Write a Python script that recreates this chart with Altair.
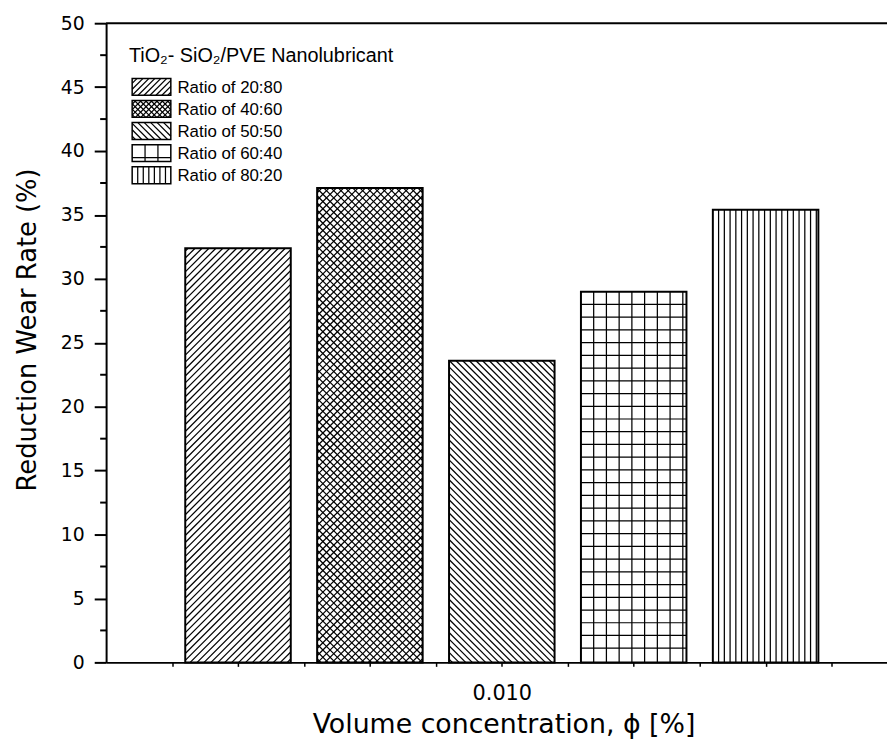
import altair as alt
import pandas as pd

# ---------------- data ----------------
ratios = ["Ratio of 20:80", "Ratio of 40:60", "Ratio of 50:50", "Ratio of 60:40", "Ratio of 80:20"]
wear_reduction = [32.4, 37.1, 23.6, 29.0, 35.4]
concentration = 0.010
hatch_kinds = ["diag_up", "cross", "diag_down", "grid", "vertical"]
legend_title = "TiO\u2082- SiO\u2082/PVE Nanolubricant"
x_ticks = [0.0075, 0.008, 0.0085, 0.009, 0.0095, 0.010, 0.0105, 0.011, 0.0115, 0.012, 0.0125]
y_major = [0, 5, 10, 15, 20, 25, 30, 35, 40, 45, 50]
y_minor = [2.5, 7.5, 12.5, 17.5, 22.5, 27.5, 32.5, 37.5, 42.5, 47.5]
x_title = "Volume concentration, \u03d5 [%]"
y_title = "Reduction Wear Rate (%)"

# ---------------- layout ----------------
W, H = 788, 645
X_MIN = 0.007
PX_PER_X = 66.55 / 0.0005
X_MAX = X_MIN + W / PX_PER_X
Y_MIN, Y_MAX = 0.0, 50.0
PX_PER_Y = H / (Y_MAX - Y_MIN)
GROUP_STEP = 0.001
BAR_FRAC = 0.8
BAR_SPACING = [7.0, 7.3, 6.7, 12.85, 5.8]
LEG_SPACING = [6.0, 5.5, 6.5, 13.0, 5.6]
LEG_LEFT, LEG_TOP, LEG_W, LEG_H, LEG_PITCH = 26.3, 55.7, 39.0, 17.0, 22.3
LEG_TEXT_X = 72.0
LEG_TITLE_X, LEG_TITLE_Y = 23.0, 39.3
AXIS_FONT = "DejaVu Sans"
LEG_FONT = "Liberation Sans"


def hatch(kind, w, h, s):
    """segments in local pixel coords (origin bottom-left, y up)"""
    segs = []
    if kind in ("diag_up", "cross"):
        c = -w + s / 2
        while c < h:
            a = max(0.0, -c)
            b = min(w, h - c)
            if b > a:
                segs.append((a, a + c, b, b + c))
            c += s
    if kind in ("diag_down", "cross"):
        c = s / 2
        while c < w + h:
            a = max(0.0, c - h)
            b = min(w, c)
            if b > a:
                segs.append((a, c - a, b, c - b))
            c += s
    if kind in ("grid", "vertical"):
        X = s
        while X < w - 0.5:
            segs.append((X, 0.0, X, h))
            X += s
    if kind == "grid":
        Y = h - s
        while Y > 2.0:
            segs.append((0.0, Y, w, Y))
            Y -= s
    return segs


def px_x(px):
    return X_MIN + px / PX_PER_X


def px_y(py):
    return Y_MAX - py / PX_PER_Y


bar_rows, hatch_rows = [], []
for i, (r, v, k) in enumerate(zip(ratios, wear_reduction, hatch_kinds)):
    xc = concentration + (i - 2) * GROUP_STEP
    x0 = xc - BAR_FRAC * GROUP_STEP / 2
    x1 = xc + BAR_FRAC * GROUP_STEP / 2
    bar_rows.append(dict(ratio=r, x=x0, x2=x1, y=0.0, y2=v))
    w_px = (x1 - x0) * PX_PER_X
    h_px = v * PX_PER_Y
    for (a, b, c, d) in hatch(k, w_px, h_px, BAR_SPACING[i]):
        hatch_rows.append(dict(x=x0 + a / PX_PER_X, y=b / PX_PER_Y,
                               x2=x0 + c / PX_PER_X, y2=d / PX_PER_Y))

leg_rows, leg_text_rows = [], []
for i, (r, k) in enumerate(zip(ratios, hatch_kinds)):
    top = LEG_TOP + i * LEG_PITCH
    bot = top + LEG_H
    leg_rows.append(dict(x=px_x(LEG_LEFT), x2=px_x(LEG_LEFT + LEG_W), y=px_y(bot), y2=px_y(top)))
    for (a, b, c, d) in hatch(k, LEG_W, LEG_H, LEG_SPACING[i]):
        hatch_rows.append(dict(x=px_x(LEG_LEFT + a), y=px_y(bot - b),
                               x2=px_x(LEG_LEFT + c), y2=px_y(bot - d)))
    leg_text_rows.append(dict(x=px_x(LEG_TEXT_X), y=px_y(top + LEG_H / 2 + 6.2), label=r))

bars_df = pd.DataFrame(bar_rows)
hatch_df = pd.DataFrame(hatch_rows)
leg_df = pd.DataFrame(leg_rows)
leg_text_df = pd.DataFrame(leg_text_rows)
leg_title_df = pd.DataFrame([dict(x=px_x(LEG_TITLE_X), y=px_y(LEG_TITLE_Y), label=legend_title)])
minor_df = pd.DataFrame({"y": y_minor})
frame_df = pd.DataFrame({"a": [0]})

XS = alt.Scale(domain=[X_MIN, X_MAX], nice=False, zero=False)
YS = alt.Scale(domain=[Y_MIN, Y_MAX], nice=False, zero=False)

XAX = alt.Axis(values=x_ticks, labelExpr="abs(datum.value - 0.01) < 1e-9 ? '0.010' : ''",
               tickSize=4, tickWidth=1.5, tickColor="black", domainWidth=2, domainColor="black",
               labelFont=AXIS_FONT, labelFontSize=21, labelColor="black", labelPadding=16,
               labelOverlap=False, labelFlush=False, grid=False,
               title=x_title, titleFont=AXIS_FONT, titleFontSize=27, titleFontWeight="normal",
               titleColor="black", titleX=401, titleY=71, titleBaseline="alphabetic",
               titleAlign="center")
YAX = alt.Axis(values=y_major, tickSize=12, tickWidth=2, tickColor="black", domainWidth=2,
               domainColor="black", labelFont=AXIS_FONT, labelFontSize=19, labelColor="black",
               labelPadding=10, labelFlush=False, labelOverlap=False, grid=False,
               title=y_title, titleFont=AXIS_FONT, titleFontSize=26, titleFontWeight="normal",
               titleColor="black", titleX=-71, titleY=309, titleAngle=270,
               titleBaseline="alphabetic", titleAlign="center")


def enc(ch, rect=True):
    e = dict(x=alt.X("x:Q", scale=XS, axis=XAX), y=alt.Y("y:Q", scale=YS, axis=YAX))
    if rect:
        e["x2"] = "x2:Q"
        e["y2"] = "y2:Q"
    return ch.encode(**e)


bar_fill = enc(alt.Chart(bars_df).mark_rect(fill="white", stroke=None))
hatch_layer = enc(alt.Chart(hatch_df).mark_rule(color="black", strokeWidth=1.25))
bar_outline = enc(alt.Chart(bars_df).mark_rect(fill="white", fillOpacity=0, stroke="black", strokeWidth=2))
leg_outline = enc(alt.Chart(leg_df).mark_rect(fill="white", fillOpacity=0, stroke="black", strokeWidth=1.5))
leg_text = enc(alt.Chart(leg_text_df).mark_text(align="left", baseline="alphabetic", font=LEG_FONT,
                                                fontSize=17, color="black"), rect=False).encode(text="label:N")
leg_title = enc(alt.Chart(leg_title_df).mark_text(align="left", baseline="alphabetic", font=LEG_FONT,
                                                  fontSize=20, color="black"), rect=False).encode(text="label:N")
minor_ticks = alt.Chart(minor_df).mark_rule(color="black", strokeWidth=2).encode(
    y=alt.Y("y:Q", scale=YS, axis=YAX), x=alt.value(-6), x2=alt.value(0))
top_frame = alt.Chart(frame_df).mark_rule(color="black", strokeWidth=2).encode(
    x=alt.value(0), x2=alt.value(W), y=alt.value(0))

chart = alt.layer(bar_fill, hatch_layer, bar_outline, leg_outline, leg_text, leg_title,
                  minor_ticks, top_frame).properties(
    width=W, height=H,
    padding={"left": 99, "top": 12, "right": 0, "bottom": 77},
    autosize=alt.AutoSizeParams(type="none"),
    background="white",
).configure_view(stroke=None)

chart.save("out.html", embed_options={"renderer": "svg", "actions": False})
